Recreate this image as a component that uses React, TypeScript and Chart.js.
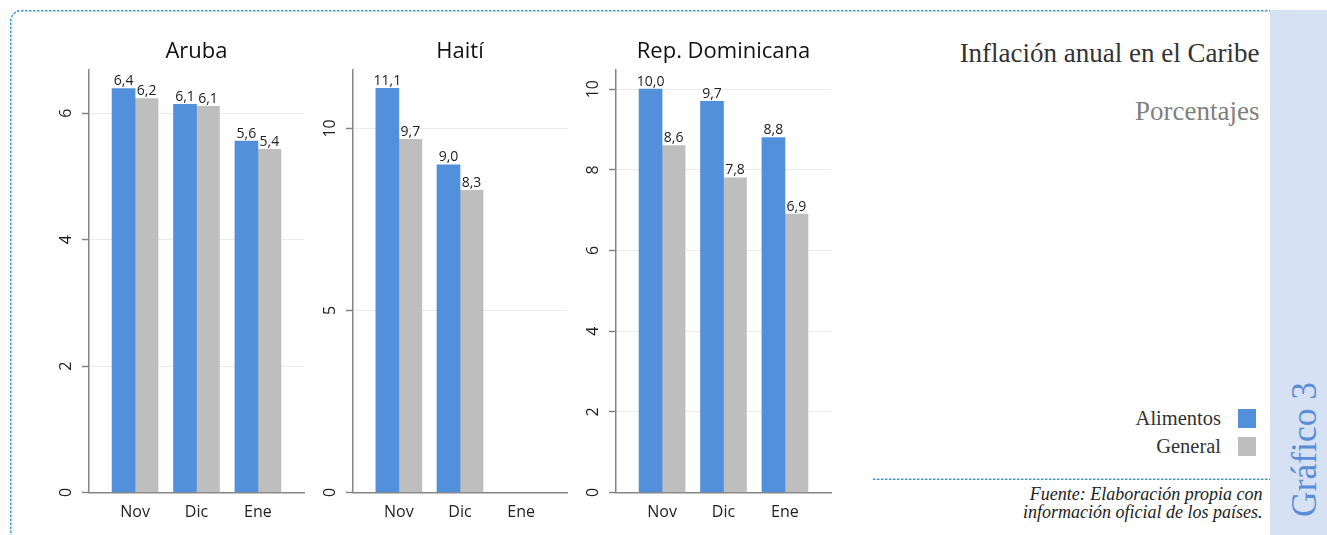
import React, { useEffect, useRef } from 'react';
import { Chart, registerables } from 'chart.js';

Chart.register(...registerables);

// ---------- data ----------
const categories = ['Nov', 'Dic', 'Ene'];
const seriesNames = ['Alimentos', 'General'];

const arubaAlimentos: (number | null)[] = [6.39, 6.14, 5.56];
const arubaGeneral: (number | null)[] = [6.23, 6.11, 5.43];
const haitiAlimentos: (number | null)[] = [11.1, 9.0, null];
const haitiGeneral: (number | null)[] = [9.7, 8.3, null];
const repDomAlimentos: (number | null)[] = [10.0, 9.7, 8.8];
const repDomGeneral: (number | null)[] = [8.6, 7.8, 6.9];

const arubaTicks = [0, 2, 4, 6];
const haitiTicks = [0, 5, 10];
const repDomTicks = [0, 2, 4, 6, 8, 10];

const arubaMax = 6.68;
const haitiMax = 11.6;
const repDomMax = 10.47;

// ---------- style ----------
const BLUE = '#5290DB';
const GRAY = '#BEBEBE';
const AXIS = '#858585';
const GRID = '#ebebeb';
const SANS = "'Open Sans', 'Noto Sans', sans-serif";
const SERIF = "'Liberation Serif', 'Times New Roman', serif";
const BORDER = '#3598DB';

interface Panel {
  title: string;
  a: (number | null)[];
  g: (number | null)[];
  ticks: number[];
  max: number;
  left: number;
  width: number;
  pad: number;
}

const panels: Panel[] = [
  { title: 'Aruba', a: arubaAlimentos, g: arubaGeneral, ticks: arubaTicks, max: arubaMax, left: 40, width: 268, pad: 10.5 },
  { title: 'Haití', a: haitiAlimentos, g: haitiGeneral, ticks: haitiTicks, max: haitiMax, left: 304, width: 267, pad: 6.5 },
  { title: 'Rep. Dominicana', a: repDomAlimentos, g: repDomGeneral, ticks: repDomTicks, max: repDomMax, left: 567, width: 268, pad: 6 },
];

const fmt = (v: number) => v.toFixed(1).replace('.', ',');

const valueLabels = {
  id: 'valueLabels',
  afterDatasetsDraw(chart: any) {
    const ctx = chart.ctx;
    ctx.save();
    ctx.font = `14px ${SANS}`;
    ctx.fillStyle = '#222';
    ctx.textAlign = 'center';
    ctx.textBaseline = 'alphabetic';
    chart.data.datasets.forEach((ds: any, di: number) => {
      const meta = chart.getDatasetMeta(di);
      meta.data.forEach((el: any, i: number) => {
        const raw = ds.data[i];
        if (!raw || raw.y == null) return;
        ctx.fillText(fmt(raw.y), el.x, el.y - 3.5);
      });
    });
    ctx.restore();
  },
};

function toPoints(values: (number | null)[]) {
  return values
    .map((v, i) => ({ x: i, y: v }))
    .filter((d) => d.y !== null) as { x: number; y: number }[];
}

function makeConfig(p: Panel): any {
  return {
    type: 'bar',
    data: {
      datasets: [
        { label: seriesNames[0], data: toPoints(p.a), backgroundColor: BLUE, barThickness: 23 },
        { label: seriesNames[1], data: toPoints(p.g), backgroundColor: GRAY, barThickness: 23 },
      ],
    },
    options: {
      animation: false,
      responsive: false,
      maintainAspectRatio: false,
      events: [],
      layout: { padding: { left: 0, right: 4, top: 0, bottom: 0 } },
      plugins: {
        legend: { display: false },
        tooltip: { enabled: false },
        title: {
          display: true,
          text: p.title,
          fullSize: false,
          color: '#111',
          font: { family: SANS, size: 22, weight: 'normal' },
          padding: { top: 19, bottom: 4.8 },
        },
      },
      scales: {
        x: {
          type: 'linear',
          min: -0.75,
          max: 2.75,
          offset: false,
          afterBuildTicks: (s: any) => {
            s.ticks = categories.map((_, i) => ({ value: i }));
          },
          afterFit: (s: any) => {
            s.height = 42.5;
          },
          ticks: {
            autoSkip: false,
            maxRotation: 0,
            minRotation: 0,
            padding: 10,
            color: '#222',
            font: { family: SANS, size: 16 },
            callback: (v: any) => categories[v] ?? '',
          },
          grid: { display: false, drawTicks: false, offset: false },
          border: { display: true, color: AXIS, width: 1.5 },
        },
        y: {
          min: 0,
          max: p.max,
          afterBuildTicks: (s: any) => {
            s.ticks = p.ticks.map((v) => ({ value: v }));
          },
          afterFit: (s: any) => {
            s.width = 49;
          },
          ticks: {
            minRotation: 90,
            maxRotation: 90,
            crossAlign: 'center',
            padding: p.pad,
            color: '#222',
            font: { family: SANS, size: 16 },
            callback: (v: any) => String(v),
          },
          grid: { color: GRID, lineWidth: 1, tickColor: AXIS, tickLength: 7, tickWidth: 1.5 },
          border: { display: true, color: AXIS, width: 1.5 },
        },
      },
    },
    plugins: [valueLabels],
  };
}

function BarPanel({ p }: { p: Panel }) {
  const ref = useRef<HTMLCanvasElement | null>(null);
  useEffect(() => {
    if (!ref.current) return;
    const chart = new Chart(ref.current, makeConfig(p));
    return () => chart.destroy();
  }, [p]);
  return (
    <div style={{ position: 'absolute', left: p.left, top: 20, width: p.width, height: 515 }}>
      <canvas ref={ref} width={p.width} height={515} style={{ display: 'block' }} />
    </div>
  );
}

const txt = (extra: React.CSSProperties): React.CSSProperties => ({
  position: 'absolute',
  whiteSpace: 'nowrap',
  lineHeight: 1,
  fontFamily: SERIF,
  ...extra,
});

export default function App() {
  return (
    <div
      style={{
        position: 'absolute',
        left: 0,
        top: 0,
        width: 1327,
        height: 535,
        overflow: 'hidden',
        background: '#fff',
      }}
    >
      <svg width={1327} height={535} style={{ position: 'absolute', left: 0, top: 0 }}>
        <path
          d="M 10.75 545 L 10.75 21 A 10.25 10.25 0 0 1 21 10.75 L 1272 10.75"
          fill="none"
          stroke={BORDER}
          strokeWidth={1.5}
          strokeDasharray="2.5 1.5"
        />
        <line x1={873} y1={479.25} x2={1270} y2={479.25} stroke={BORDER} strokeWidth={1.5} strokeDasharray="2.5 1.5" />
      </svg>
      <div style={{ position: 'absolute', left: 1270, top: 10, width: 57, height: 525, background: '#D6E2F3' }} />

      {panels.map((p) => (
        <BarPanel key={p.title} p={p} />
      ))}

      <div style={txt({ right: 67.5, top: 40.2, fontSize: 27, color: '#333' })}>Inflación anual en el Caribe</div>
      <div style={txt({ right: 67.5, top: 98, fontSize: 27, color: '#7f7f7f' })}>Porcentajes</div>

      <div style={txt({ right: 106, top: 407.8, fontSize: 20.5, color: '#333' })}>{seriesNames[0]}</div>
      <div style={{ position: 'absolute', left: 1237.5, top: 409.3, width: 18.5, height: 18.5, background: BLUE }} />
      <div style={txt({ right: 106, top: 435.5, fontSize: 20.5, color: '#333' })}>{seriesNames[1]}</div>
      <div style={{ position: 'absolute', left: 1237.5, top: 437, width: 18.5, height: 18.5, background: GRAY }} />

      <div
        style={{
          position: 'absolute',
          right: 64.5,
          top: 486,
          fontFamily: SERIF,
          fontStyle: 'italic',
          fontSize: 18,
          lineHeight: '17.5px',
          color: '#222',
          textAlign: 'right',
          whiteSpace: 'nowrap',
        }}
      >
        Fuente: Elaboración propia con
        <br />
        información oficial de los países.
      </div>

      <div
        style={txt({
          left: 1286.7,
          top: 517,
          fontSize: 35.5,
          color: '#5B8DD6',
          transform: 'rotate(-90deg)',
          transformOrigin: '0 0',
        })}
      >
        Gráfico 3
      </div>
    </div>
  );
}
